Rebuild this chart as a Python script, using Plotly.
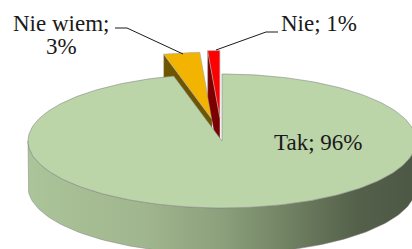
import numpy as np
import plotly.graph_objects as go

# ---- data ----
labels = ["Tak", "Nie wiem", "Nie"]
values = [96, 3, 1]
pct_text = ["96%", "3%", "1%"]
pulls = [0.0, 0.33, 0.35]
top_colors = ["rgb(187,212,168)", "rgb(242,180,0)", "rgb(255,0,0)"]
side_colors = ["rgb(140,160,125)", "rgb(110,86,0)", "rgb(125,0,0)"]

# ---- geometry (style) ----
CX, CY, RX, RY, DEPTH = 222, 141, 194, 67, 46

total = float(sum(values))
bounds = np.concatenate([[0.0], np.cumsum(values) / total * 360.0])


def ell(theta, off=(0.0, 0.0), dy=0.0):
    t = np.radians(theta)
    return CX + off[0] + RX * np.sin(t), CY + off[1] - RY * np.cos(t) + dy


fig = go.Figure()

# exploded slices (drawn first, behind the main slice)
for i in [1, 2]:
    t0, t1 = bounds[i], bounds[i + 1]
    mid = np.radians((t0 + t1) / 2)
    off = (pulls[i] * RX * np.sin(mid), -pulls[i] * RY * np.cos(mid))
    tipx, tipy = CX + off[0], CY + off[1]
    ox, oy = ell(t0, off)
    # radial cut face
    fig.add_trace(go.Scatter(
        x=[tipx, ox, ox, tipx, tipx], y=[tipy, oy, oy + DEPTH, tipy + DEPTH, tipy],
        fill="toself", fillcolor=side_colors[i], mode="lines",
        line=dict(color="rgba(150,150,150,0.6)", width=0.6), hoverinfo="skip"))
    # top face
    th = np.linspace(t0, t1, 20)
    ax, ay = ell(th, off)
    fig.add_trace(go.Scatter(
        x=np.concatenate([[tipx], ax, [tipx]]), y=np.concatenate([[tipy], ay, [tipy]]),
        fill="toself", fillcolor=top_colors[i], mode="lines",
        line=dict(color="rgba(170,170,170,0.8)", width=0.8), hoverinfo="skip"))

# main slice side (front rim)
th = np.linspace(90, 270, 120)
tx, ty = ell(th)
bx, by = ell(th[::-1], dy=DEPTH)
fig.add_trace(go.Scatter(
    x=np.concatenate([tx, bx, tx[:1]]), y=np.concatenate([ty, by, ty[:1]]),
    fill="toself", mode="lines",
    fillgradient=dict(type="horizontal", colorscale=[
        [0.0, "rgb(172,196,154)"], [0.3, "rgb(160,182,142)"], [0.5, "rgb(140,160,124)"],
        [0.7, "rgb(108,124,94)"], [0.85, "rgb(84,96,74)"], [1.0, "rgb(76,88,68)"]]),
    line=dict(color="rgba(130,130,130,0.7)", width=0.7), hoverinfo="skip"))

# main slice top
t0, t1 = bounds[0], bounds[1]
th = np.linspace(t0, t1, 300)
ax, ay = ell(th)
fig.add_trace(go.Scatter(
    x=np.concatenate([[CX], ax, [CX]]), y=np.concatenate([[CY], ay, [CY]]),
    fill="toself", fillcolor=top_colors[0], mode="lines",
    line=dict(color="rgba(130,130,130,0.7)", width=0.8), hoverinfo="skip"))

FONT = dict(family="Liberation Serif, Times New Roman, serif", size=23, color="#1a1a1a")
ann = [
    dict(x=61, y=23, text=labels[1] + ";"),
    dict(x=61, y=46, text=pct_text[1]),
    dict(x=319, y=23, text=labels[2] + "; " + pct_text[2]),
    dict(x=318, y=142, text=labels[0] + "; " + pct_text[0]),
]
for a in ann:
    fig.add_annotation(x=a["x"], y=a["y"], text=a["text"], showarrow=False,
                       xref="x", yref="y", font=FONT, xanchor="center", yanchor="middle")

# leader lines
fig.add_trace(go.Scatter(x=[115, 127, 183], y=[28, 28, 54], mode="lines",
                         line=dict(color="#1a1a1a", width=1), hoverinfo="skip"))
fig.add_trace(go.Scatter(x=[278, 266, 216], y=[32, 32, 50], mode="lines",
                         line=dict(color="#1a1a1a", width=1), hoverinfo="skip"))

fig.update_layout(
    width=412, height=249, autosize=False,
    margin=dict(l=0, r=0, t=0, b=0),
    paper_bgcolor="white", plot_bgcolor="white", showlegend=False,
    xaxis=dict(range=[0, 412], visible=False, fixedrange=True),
    yaxis=dict(range=[249, 0], visible=False, fixedrange=True),
)
fig.write_html("out.html", config={"displayModeBar": False},
               post_script="document.body.style.margin='0';document.body.style.overflow='hidden';")
